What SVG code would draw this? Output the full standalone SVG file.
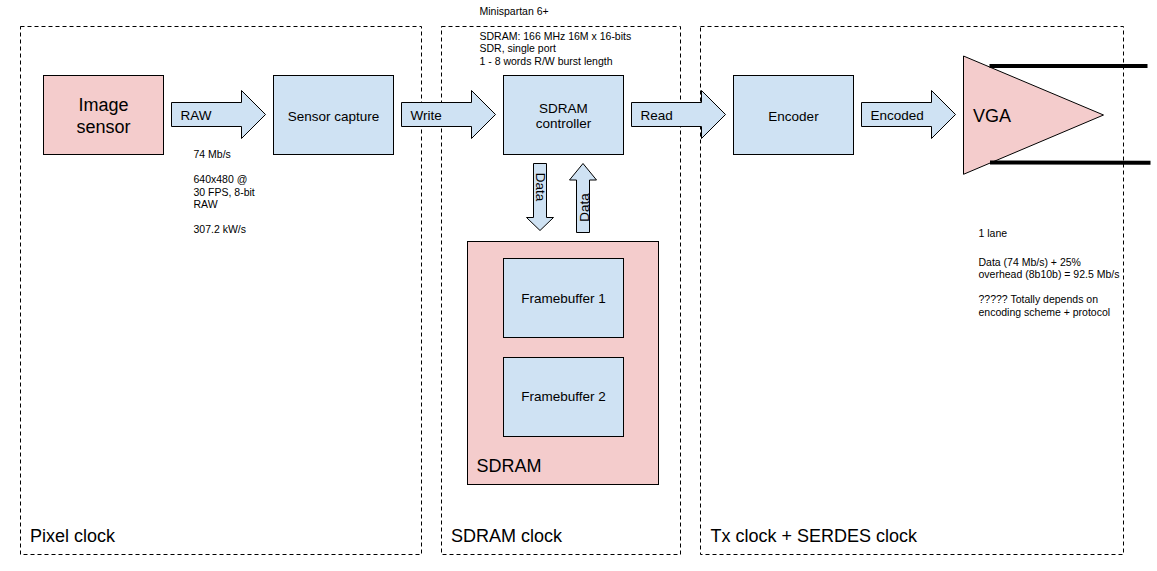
<svg xmlns="http://www.w3.org/2000/svg" width="1157" height="571" viewBox="0 0 1157 571">
<style>
.zone{fill:none;stroke:#000;stroke-width:1;stroke-dasharray:4,3}
.blue{fill:#cfe2f3;stroke:#000;stroke-width:1}
.pink{fill:#f4cccc;stroke:#000;stroke-width:1}
text{font-family:"Liberation Sans",Arial,sans-serif;fill:#000}
.big{font-size:18px}
.mid{font-size:13.5px}
.sm{font-size:10.5px}
.c{text-anchor:middle}
</style>
<rect width="1157" height="571" fill="#fff"/>
<g id="zones">
<rect class="zone" x="20.5" y="26.5" width="401" height="528"/>
<rect class="zone" x="441.5" y="26.5" width="239" height="528"/>
<rect class="zone" x="700.5" y="26.5" width="423" height="528"/>
<text class="big" x="30" y="542">Pixel clock</text>
<text class="big" x="451" y="542">SDRAM clock</text>
<text class="big" x="710.5" y="542">Tx clock + SERDES clock</text>
</g>
<g id="image-sensor">
<rect class="pink" x="43.5" y="75.5" width="120" height="79"/>
<text class="big c" x="103.5" y="111">Image</text>
<text class="big c" x="103.5" y="132.5">sensor</text>
</g>
<g id="sensor-capture">
<rect class="blue" x="273.5" y="75.5" width="120" height="79"/>
<text class="mid c" x="333.5" y="120.5">Sensor capture</text>
</g>
<g id="sdram-controller">
<rect class="blue" x="503.5" y="75.5" width="120" height="79"/>
<text class="mid c" x="563.5" y="112.5">SDRAM</text>
<text class="mid c" x="563.5" y="127.5">controller</text>
</g>
<g id="encoder">
<rect class="blue" x="733.5" y="75.5" width="120" height="79"/>
<text class="mid c" x="793.5" y="120.5">Encoder</text>
</g>
<g id="vga">
<polygon class="pink" points="963.5,56 1103.5,115 963.5,174.3"/>
<text class="big" x="973" y="121.5">VGA</text>
<line x1="989.5" y1="66" x2="1147.5" y2="66" stroke="#000" stroke-width="4"/>
<line x1="990" y1="162.5" x2="1150.5" y2="162.8" stroke="#000" stroke-width="4"/>
</g>
<g id="sdram">
<rect class="pink" x="467.5" y="241.5" width="191" height="243"/>
<text class="big" x="476.5" y="471.5">SDRAM</text>
</g>
<g id="framebuffer-1">
<rect class="blue" x="503.5" y="258.5" width="120" height="79"/>
<text class="mid c" x="563.5" y="302.5">Framebuffer 1</text>
</g>
<g id="framebuffer-2">
<rect class="blue" x="503.5" y="357.5" width="120" height="79"/>
<text class="mid c" x="563.5" y="401">Framebuffer 2</text>
</g>
<g id="connectors">
<polygon class="blue" points="171.5,102.5 241.5,102.5 241.5,90.5 265.5,114.5 241.5,138.5 241.5,126.5 171.5,126.5"/>
<text class="mid" x="180.5" y="119.5">RAW</text>
<polygon class="blue" points="401.5,102.5 471.5,102.5 471.5,90.5 495.5,114.5 471.5,138.5 471.5,126.5 401.5,126.5"/>
<text class="mid" x="410.5" y="119.5">Write</text>
<polygon class="blue" points="631.5,102.5 701.5,102.5 701.5,90.5 725.5,114.5 701.5,138.5 701.5,126.5 631.5,126.5"/>
<text class="mid" x="640.5" y="119.5">Read</text>
<polygon class="blue" points="861.5,102.5 931.5,102.5 931.5,90.5 955.5,114.5 931.5,138.5 931.5,126.5 861.5,126.5"/>
<text class="mid" x="870.5" y="119.5">Encoded</text>
<polygon class="blue" points="533.5,163.5 546.5,163.5 546.5,217.5 553.5,217.5 540,230.5 526.5,217.5 533.5,217.5"/>
<text class="mid c" transform="translate(535.5,187) rotate(90)">Data</text>
<polygon class="blue" points="576.5,232.5 589.5,232.5 589.5,180 596.5,180 583,163.5 569.5,180 576.5,180"/>
<text class="mid c" transform="translate(588.5,207.5) rotate(-90)">Data</text>
</g>
<g id="notes">
<text class="sm" x="479.5" y="15">Minispartan 6+</text>
<text class="sm" x="479.5" y="39.5">SDRAM: 166 MHz 16M x 16-bits</text>
<text class="sm" x="479.5" y="52">SDR, single port</text>
<text class="sm" x="479.5" y="64.5">1 - 8 words R/W burst length</text>
<text class="sm" x="193.5" y="157.5">74 Mb/s</text>
<text class="sm" x="193.5" y="183">640x480 @</text>
<text class="sm" x="193.5" y="195.5">30 FPS, 8-bit</text>
<text class="sm" x="193.5" y="208">RAW</text>
<text class="sm" x="193.5" y="233">307.2 kW/s</text>
<text class="sm" x="978.5" y="237.3">1 lane</text>
<text class="sm" x="978.5" y="266">Data (74 Mb/s) + 25%</text>
<text class="sm" x="978.5" y="278.3">overhead (8b10b) = 92.5 Mb/s</text>
<text class="sm" x="978.5" y="303.3">????? Totally depends on</text>
<text class="sm" x="978.5" y="316">encoding scheme + protocol</text>
</g>
</svg>
